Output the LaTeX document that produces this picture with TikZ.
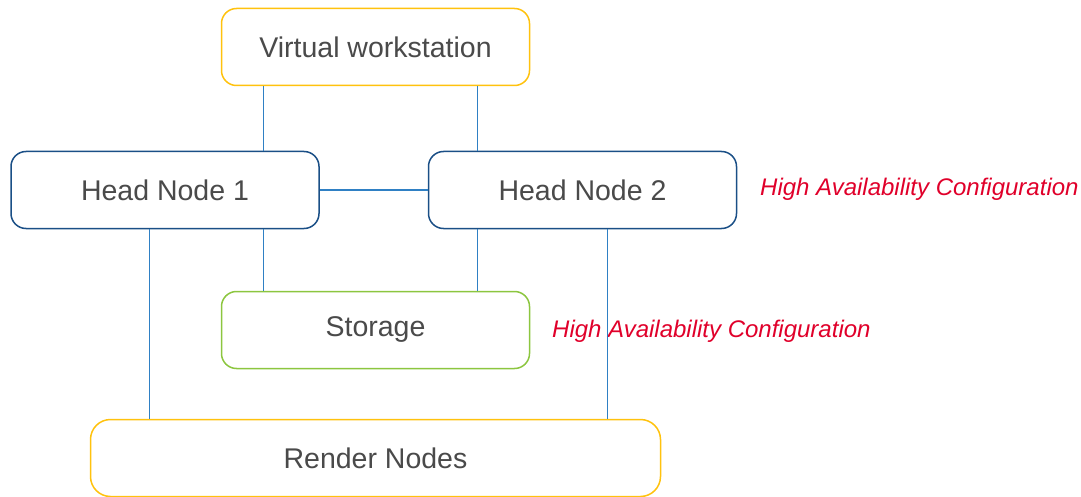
\documentclass[tikz,border=0pt]{standalone}
\usepackage{fontspec}
\setmainfont{Liberation Sans}
\usepackage{xcolor}
\definecolor{hlyellow}{HTML}{FFC20E}
\definecolor{hlnavy}{HTML}{1A4F86}
\definecolor{hlgreen}{HTML}{8CC63F}
\definecolor{hllink}{HTML}{2F80C4}
\definecolor{hltext}{HTML}{4A4A4A}
\definecolor{hlred}{HTML}{E0002A}

\begin{document}
\begin{tikzpicture}[x=1pt,y=-1pt]
    \tikzstyle{box}=[rectangle, rounded corners=15pt, line width=1.5pt, fill=white,
      minimum width=308pt, minimum height=77pt, inner sep=0pt, text=hltext,
      font=\fontsize{28.5}{34}\selectfont]
    \tikzstyle{link}=[hllink, line width=1.1pt]
    \tikzstyle{hanote}=[text=hlred, anchor=west, inner sep=0pt,
      font=\fontsize{24}{28}\selectfont\itshape]
    \useasboundingbox (0,0) rectangle (1081,497);
    \node[box, draw=hlyellow] (vw) at (375.5,47) {Virtual workstation};
    \node[box, draw=hlnavy] (hn1) at (165,190) {Head Node 1};
    \node[box, draw=hlnavy] (hn2) at (582.5,190) {Head Node 2};
    \node[box, draw=hlgreen] (st) at (375.5,330) {Storage};
    \node[box, draw=hlyellow, minimum width=570pt, rounded corners=20pt] (rn) at (375.5,458) {Render Nodes};
    \node[hanote] (ha1) at (760,189) {High Availability Configuration};
    \node[hanote] (ha2) at (552,331) {High Availability Configuration};
    % links
    \draw[link] ([xshift=43]vw.south west) -- ([xshift=43]vw.south west |- hn1.north);
    \draw[link] ([xshift=-53]vw.south east) -- ([xshift=-53]vw.south east |- hn2.north);
    \draw[link] (hn1.east) -- (hn2.west);
    \draw[link] ([xshift=43]st.north west |- hn1.south) -- ([xshift=43]st.north west);
    \draw[link] ([xshift=-53]st.north east |- hn2.south) -- ([xshift=-53]st.north east);
    \draw[link] ([xshift=139]hn1.south west) -- ([xshift=139]hn1.south west |- rn.north);
    \draw[link] ([xshift=180]hn2.south west) -- ([xshift=180]hn2.south west |- rn.north);
\end{tikzpicture}
\end{document}
